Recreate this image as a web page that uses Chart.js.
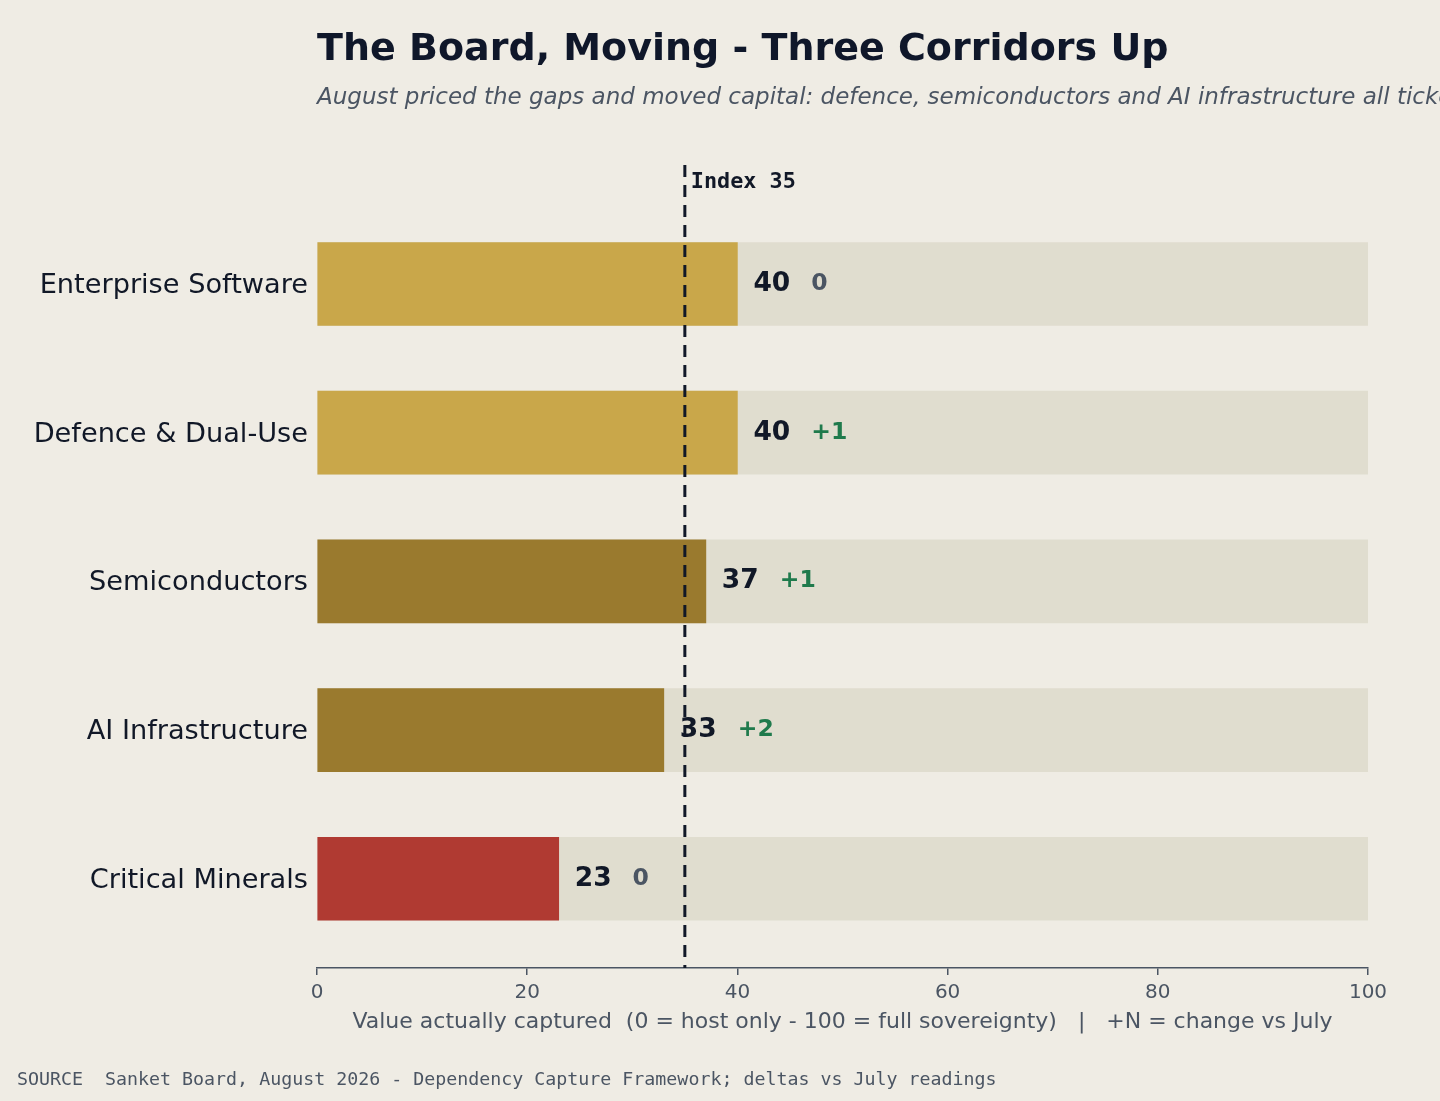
<!DOCTYPE html>
<html>
<head>
<meta charset="utf-8">
<script src="https://cdn.jsdelivr.net/npm/chart.js@4.4.1/dist/chart.umd.min.js"></script>
<style>
    html, body { margin: 0; padding: 0; background: #efece4; }
    #wrap { width: 1440px; height: 1101px; position: relative; }
</style>
</head>
<body>
<div id="wrap"><canvas id="boardChart"></canvas></div>
<script>
// data
const categories = ['Enterprise Software', 'Defence & Dual-Use', 'Semiconductors', 'AI Infrastructure', 'Critical Minerals'];
const scores = [40, 40, 37, 33, 23];
const deltas = [0, 1, 1, 2, 0];
const trackMax = [100, 100, 100, 100, 100];
const xTicks = [0, 20, 40, 60, 80, 100];
const indexValue = 35;

const barColors = ['#c9a74a', '#c9a74a', '#9a7a2e', '#9a7a2e', '#b03a32'];

const titleText = 'The Board, Moving - Three Corridors Up';
const subtitleText = 'August priced the gaps and moved capital: defence, semiconductors and AI infrastructure all ticked up';
const sourceText = 'SOURCE  Sanket Board, August 2026 - Dependency Capture Framework; deltas vs July readings';
const axisText = 'Value actually captured  (0 = host only - 100 = full sovereignty)   |   +N = change vs July';

const DARK = '#111827';
const GREY = '#4b5563';
const GREEN = '#1f7a4c';
const SANS = '"DejaVu Sans", sans-serif';
const MONO = '"DejaVu Sans Mono", monospace';

function toPoints(vals){
    var pts = []
    for (let i = 0; i < vals.length; i++) {
        pts.push({x: vals[i], y: i})
    }
    return pts;
}

const decorPlugin = {
    id: 'decor',
    beforeDraw(chart){
        const ctx = chart.ctx;
        ctx.save();
        ctx.fillStyle = '#efece4';
        ctx.fillRect(0, 0, chart.width, chart.height);

        ctx.textAlign = 'left';
        ctx.textBaseline = 'alphabetic';
        ctx.fillStyle = '#0f172a';
        ctx.font = 'bold 38px ' + SANS;
        ctx.fillText(titleText, 317, 60);

        ctx.fillStyle = GREY;
        ctx.font = 'italic 23px ' + SANS;
        ctx.fillText(subtitleText, 317, 104);

        ctx.font = '18.3px ' + MONO;
        ctx.fillText(sourceText, 17, 1085);
        ctx.restore();
    },
    afterDatasetsDraw(chart){
        const ctx = chart.ctx;
        const xs = chart.scales.x;
        const ys = chart.scales.y;
        const area = chart.chartArea;
        ctx.save();

        // index reference line
        const lx = xs.getPixelForValue(indexValue);
        ctx.strokeStyle = DARK;
        ctx.lineWidth = 3;
        ctx.setLineDash([12, 8]);
        ctx.beginPath();
        ctx.moveTo(lx, area.top);
        ctx.lineTo(lx, area.bottom);
        ctx.stroke();
        ctx.setLineDash([]);

        ctx.fillStyle = DARK;
        ctx.font = 'bold 21.8px ' + MONO;
        ctx.textAlign = 'left';
        ctx.textBaseline = 'alphabetic';
        ctx.fillText('Index ' + indexValue, lx + 6, 188);

        // value + delta labels
        for (let i = 0; i < scores.length; i++) {
            const cy = ys.getPixelForValue(i);
            const vx = xs.getPixelForValue(scores[i]) + 16;
            ctx.font = 'bold 26.5px ' + SANS;
            ctx.fillStyle = DARK;
            const label = String(scores[i]);
            ctx.fillText(label, vx, cy + 7);
            const w = ctx.measureText(label).width;

            ctx.font = 'bold 23.5px ' + SANS;
            if (deltas[i] > 0) {
                ctx.fillStyle = GREEN;
                ctx.fillText('+' + deltas[i], vx + w + 21, cy + 6);
            } else {
                ctx.fillStyle = GREY;
                ctx.fillText(String(deltas[i]), vx + w + 21, cy + 6);
            }
        }
        ctx.restore();
    }
};

const ctx = document.getElementById('boardChart');

const boardChart = new Chart(ctx, {
    type: 'bar',
    data: {
        datasets: [{
            label: 'Captured',
            data: toPoints(scores),
            backgroundColor: barColors,
            barThickness: 83,
            grouped: false,
            order: 0
        }, {
            label: 'Track',
            data: toPoints(trackMax),
            backgroundColor: '#e0ddcf',
            barThickness: 83,
            grouped: false,
            order: 1
        }]
    },
    options: {
        indexAxis: 'y',
        responsive: true,
        maintainAspectRatio: false,
        devicePixelRatio: 1,
        animation: false,
        layout: {
            padding: {left: 0, right: 72, top: 165, bottom: 0}
        },
        plugins: {
            legend: {display: false},
            tooltip: {enabled: false}
        },
        scales: {
            x: {
                type: 'linear',
                position: 'bottom',
                min: 0,
                max: 100,
                afterBuildTicks: function(scale){
                    scale.ticks = xTicks.map(v => ({value: v}));
                },
                afterFit: function(scale){
                    scale.height = 133;
                },
                grid: {
                    display: true,
                    drawOnChartArea: false,
                    drawTicks: true,
                    tickLength: 7,
                    color: GREY,
                    lineWidth: 1.5
                },
                border: {display: true, color: GREY, width: 1.5},
                ticks: {
                    color: GREY,
                    padding: 6,
                    maxRotation: 0,
                    font: {family: SANS, size: 20}
                },
                title: {
                    display: true,
                    text: axisText,
                    color: GREY,
                    font: {family: SANS, size: 22},
                    padding: {top: 0, bottom: 66}
                }
            },
            y: {
                type: 'linear',
                offset: false,
                min: -0.8,
                max: 4.6,
                reverse: true,
                afterBuildTicks: function(scale){
                    scale.ticks = categories.map((c, i) => ({value: i}));
                },
                afterFit: function(scale){
                    scale.width = 317;
                },
                grid: {display: false, drawTicks: false},
                border: {display: false},
                ticks: {
                    color: DARK,
                    padding: 9,
                    labelOffset: 2,
                    font: {family: SANS, size: 27.2},
                    callback: function(v){ return categories[v]; }
                }
            }
        }
    },
    plugins: [decorPlugin]
});
</script>
</body>
</html>
